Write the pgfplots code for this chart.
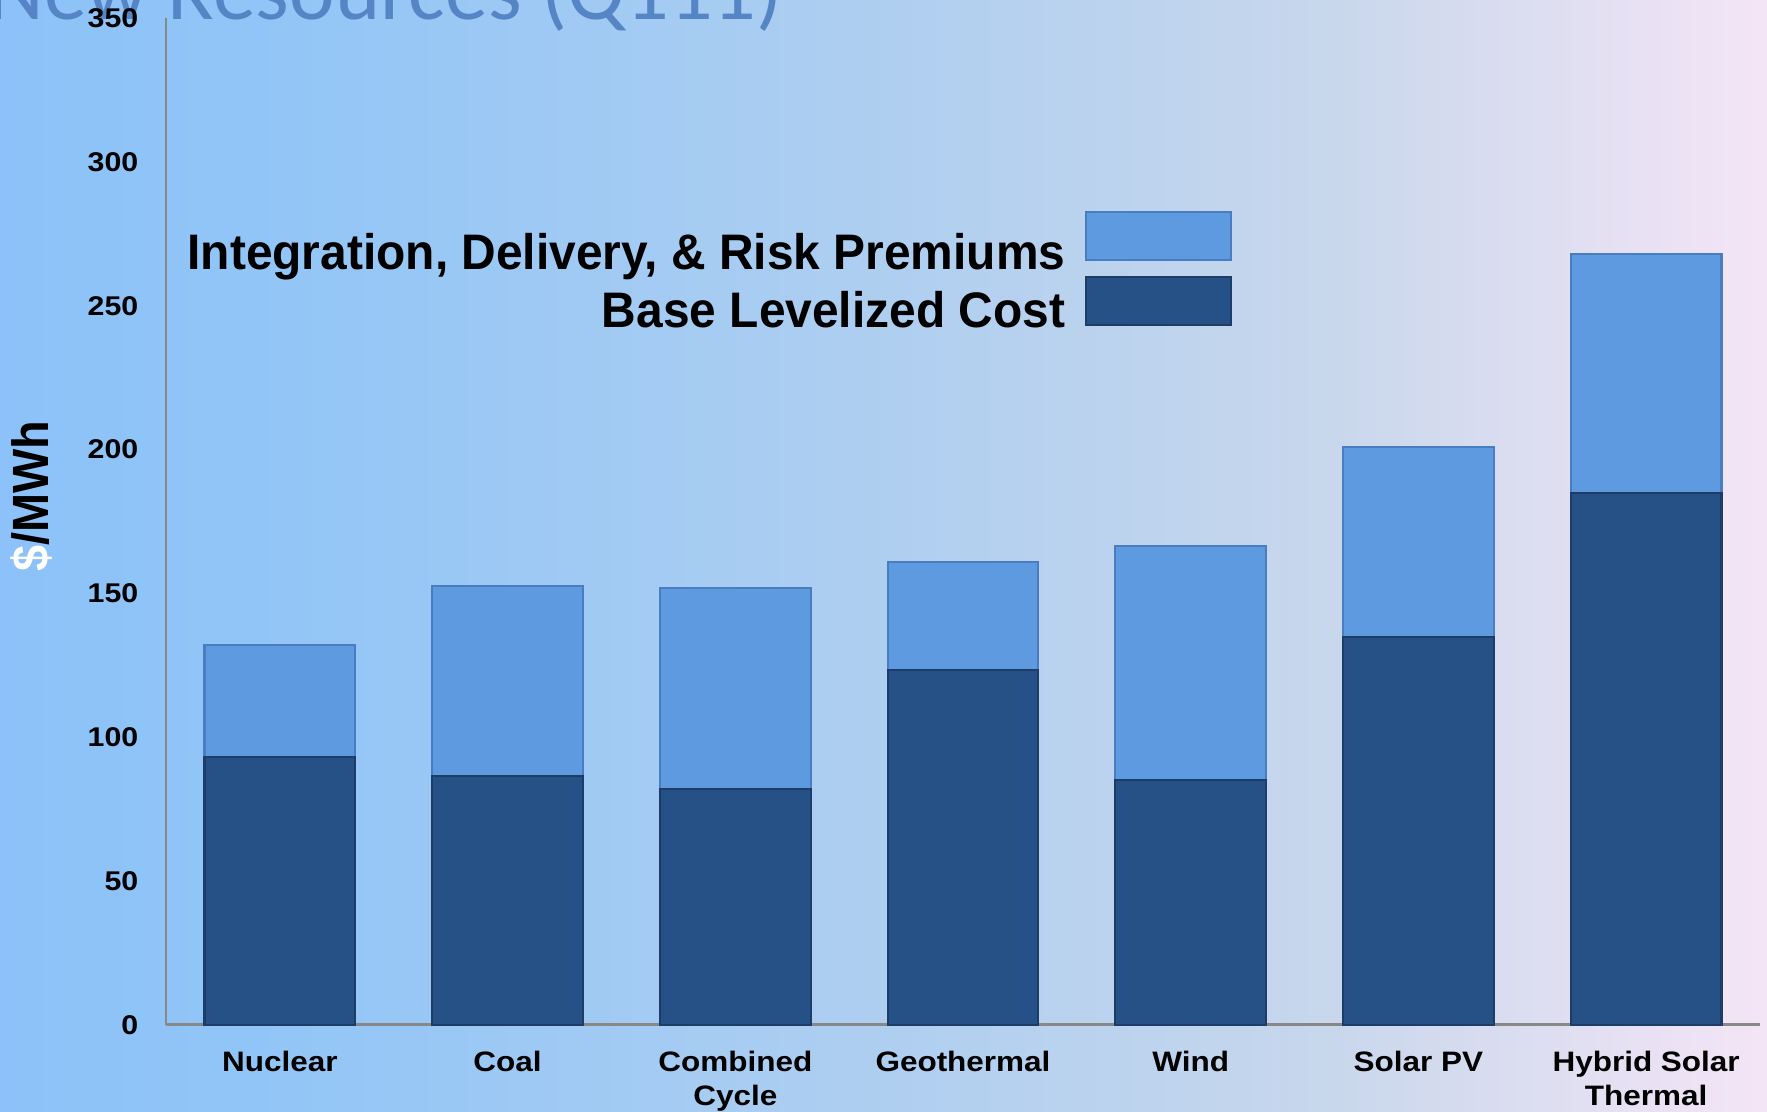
\documentclass[border=0pt]{standalone}
\usepackage{fontspec}
\usepackage{pgfplots}
\pgfplotsset{compat=1.18}
\setmainfont{Liberation Sans}
\newfontfamily\titlefont{Carlito}
\newfontfamily\tickfont[FakeStretch=1.12]{Liberation Sans}
\newfontfamily\legendfont[FakeStretch=0.96]{Liberation Sans}
\newfontfamily\ylabfont[FakeStretch=0.92]{Liberation Sans}
\definecolor{bgA}{HTML}{8CC2F9}
\definecolor{bgB}{HTML}{94C6F6}
\definecolor{bgC}{HTML}{B0CFF0}
\definecolor{bgD}{HTML}{C8D7EC}
\definecolor{bgE}{HTML}{F4E5F6}
\definecolor{lightbar}{HTML}{5E9AE0}
\definecolor{lightedge}{HTML}{4A7DBF}
\definecolor{darkbar}{HTML}{255187}
\definecolor{darkedge}{HTML}{1B3D68}
\definecolor{titleblue}{HTML}{5585C5}
\definecolor{axgray}{HTML}{888888}

\begin{document}
\begin{tikzpicture}
\path[use as bounding box] (0,0) rectangle (17.67,11.12);
\clip (0,0) rectangle (17.67,11.12);
\shade[left color=bgA, right color=bgB] (0,0) rectangle (3.32,11.12);
\shade[left color=bgB, right color=bgC] (3.30,0) rectangle (9.12,11.12);
\shade[left color=bgC, right color=bgD] (9.10,0) rectangle (13.32,11.12);
\shade[left color=bgD, right color=bgE] (13.30,0) rectangle (17.67,11.12);
\node[anchor=base west, inner sep=0pt, text=titleblue, font=\titlefont\fontsize{24.5}{28}\selectfont] at (-0.12,10.92) {New Resources (Q111)};
\begin{axis}[
 at={(1.66cm,0.87cm)}, anchor=south west,
 width=15.94cm, height=10.07cm, scale only axis,
 xmin=-0.5, xmax=6.5, ymin=0, ymax=350,
 ybar stacked, bar width=0.662,
 xtick=data,
 xticklabels={Nuclear, Coal, {Combined\\Cycle}, Geothermal, Wind, Solar PV, {Hybrid Solar\\Thermal}},
 ytick={0,50,...,350},
 major tick length=0pt,
 tick style={draw=none},
 axis x line*=bottom, axis y line*=left,
 x axis line style={axgray, line width=0.03cm, -},
 y axis line style={axgray, line width=0.018cm, -},
 /pgf/number format/assume math mode=true,
 yticklabel style={font=\tickfont\bfseries\fontsize{7.7}{9}\selectfont, inner sep=0pt, anchor=east, xshift=-0.27cm},
 xticklabel style={font=\tickfont\bfseries\fontsize{8}{9.7}\selectfont, align=center, inner sep=0pt, anchor=north, yshift=-0.25cm},
 ylabel={\textcolor{white}{\$}/MWh},
 every axis y label/.style={at={(rel axis cs:-0.0841,0.525)}, rotate=90, anchor=center, font=\ylabfont\bfseries\fontsize{14.5}{17}\selectfont},
 clip=false,
]
\addplot+[fill=darkbar, draw=darkedge, line width=0.6pt] coordinates {(0,93) (1,86.5) (2,82) (3,123.5) (4,85) (5,135) (6,185)};
\addplot+[fill=lightbar, draw=lightedge, line width=0.6pt] coordinates {(0,39) (1,66) (2,70) (3,37.5) (4,81.5) (5,66) (6,83)};
\end{axis}
% legend
\filldraw[fill=lightbar, draw=lightedge, line width=0.6pt] (10.86,8.52) rectangle (12.31,9.00);
\filldraw[fill=darkbar, draw=darkedge, line width=0.6pt] (10.86,7.87) rectangle (12.31,8.35);
\node[anchor=base east, inner sep=0pt, font=\legendfont\bfseries\fontsize{14.2}{17}\selectfont] at (10.66,8.42) {Integration, Delivery, \& Risk Premiums};
\node[anchor=base east, inner sep=0pt, font=\legendfont\bfseries\fontsize{14.2}{17}\selectfont] at (10.66,7.84) {Base Levelized Cost};
\end{tikzpicture}
\end{document}
